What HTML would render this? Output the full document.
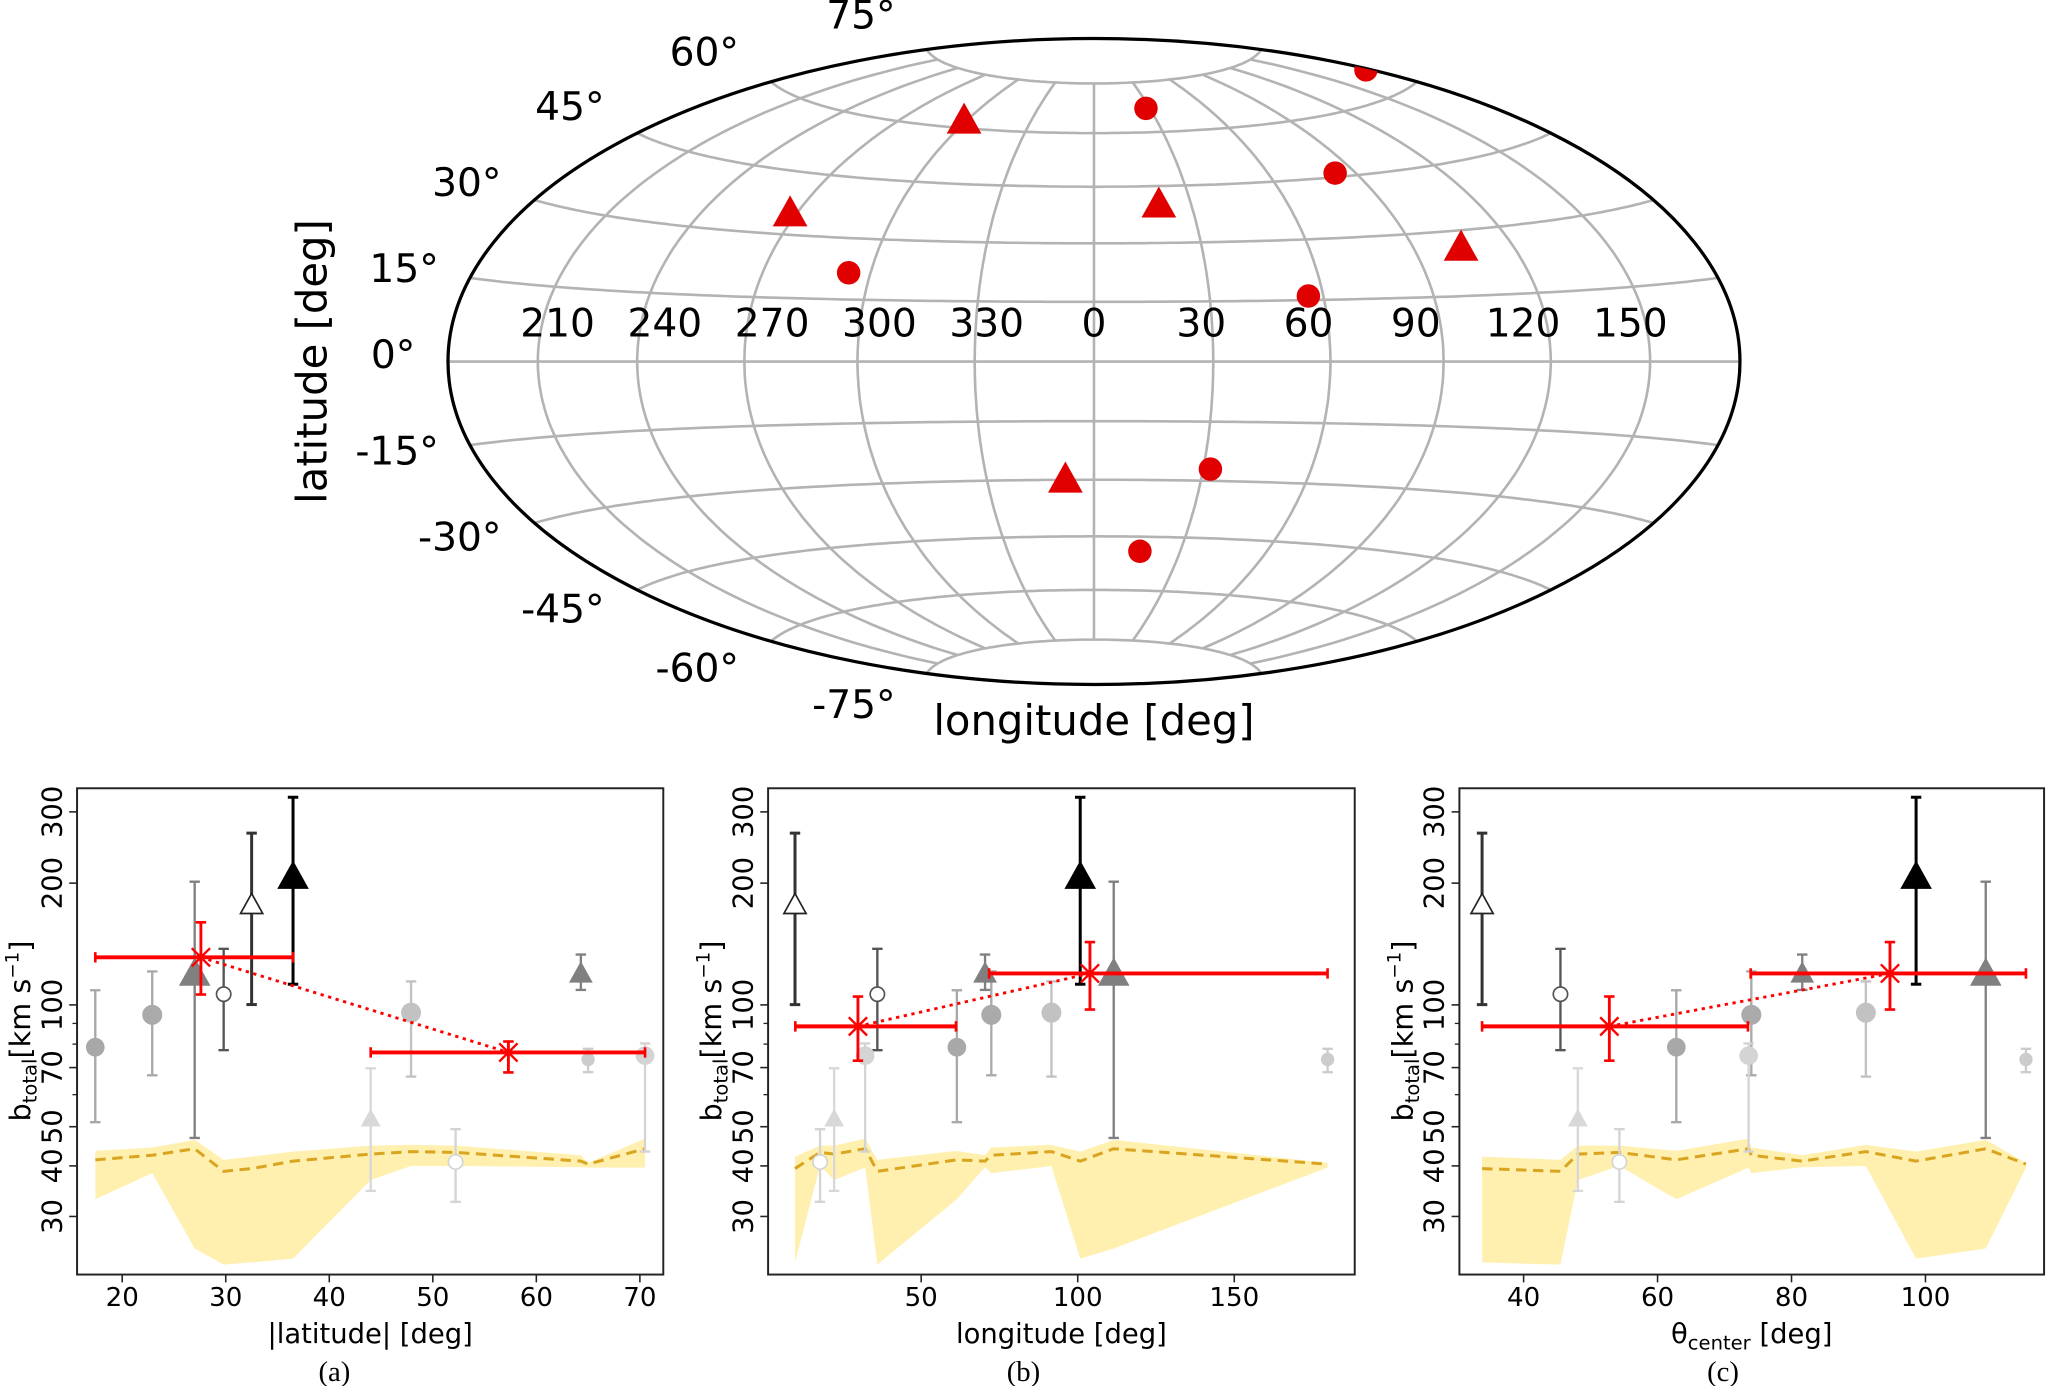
<!DOCTYPE html>
<html><head><meta charset="utf-8"><style>
html,body{margin:0;padding:0;background:#fff;}
svg{display:block;font-family:"DejaVu Sans","Liberation Sans",sans-serif;}
</style></head><body>
<svg id="fig" xmlns="http://www.w3.org/2000/svg" width="2047" height="1386" viewBox="0 0 1568 1062"></svg>
<script>
// ---- map data ----
const circLon=[178,28,83,294,56,32,16];
const circLat=[65,67,46,21.5,16,-27,-49];
const triLon=[299,268,20,104,352];
const triLat=[62,35,40,26,-30];
const lonTicks=[210,240,270,300,330,0,30,60,90,120,150];
const latTicks=[75,60,45,30,15,0,-15,-30,-45,-60,-75];
// ---- panel data (12 sources) ----
const srcLat=[17.4,22.9,27.0,29.8,32.5,36.5,44.0,47.9,52.2,64.3,65.0,70.5];
const srcLon=[61.4,72.4,111.5,36.0,9.7,100.8,22.2,91.6,17.7,70.4,179.8,32.1];
const srcTheta=[62.8,74.0,109.0,45.5,33.8,98.6,48.1,91.1,54.3,81.6,115.0,73.6];
const bVal=[78.6,94.5,119.6,106.3,177,207.6,52.3,95.7,40.9,119.6,73.3,74.9];
const bHi=[108.7,121,201.7,137.6,265.8,326,69.7,114.3,49.3,133.2,77.9,80.3];
const bLo=[51.3,67,46.9,77.3,100.2,112.5,34.7,66.5,32.6,108.9,68.2,43.4];
const medVal=[41.4,42.5,44.1,38.8,39.4,41.1,42.8,43.4,43.2,41.1,40.4,44.1];
const bandUp=[43.6,44.4,46.4,41.4,42.2,43.4,44.9,45.1,44.9,42.5,40.7,46.7];
const bandLo=[33.1,38.4,25.0,22.8,23.1,23.6,36.9,40.0,40.0,39.7,39.6,39.6];
// red binned averages per panel: [x, xlo, xhi, y, ylo, yhi]
const avgA=[[27.6,17.4,36.5,131.1,106.1,160],[57.3,44.0,70.5,76.3,68.1,81.2]];
const avgB=[[29.8,9.8,61.1,88.5,72.8,104.9],[103.9,71.7,179.8,119.6,97.4,143]];
const avgC=[[52.8,33.8,73.5,88.5,72.8,104.9],[94.7,73.9,115.0,119.6,97.4,143]];
const yTicks=[30,40,50,70,100,200,300];
const yMinor=[60,80,90];
const xTicksA=[20,30,40,50,60,70];
const xTicksB=[50,100,150];
const xTicksC=[40,60,80,100];
// marker styles per source (not data)
const sty=[
 {m:'o',r:6.5,f:'#a8a8a8',e:'#a8a8a8'},{m:'o',r:7,f:'#aaaaaa',e:'#aaaaaa'},
 {m:'^',r:11,f:'#808080',e:'#808080'},{m:'o',r:5.5,f:'#fff',e:'#555555',ec:'#555555'},
 {m:'^',r:8.5,f:'#fff',e:'#222',ec:'#333'},{m:'^',r:11,f:'#000',e:'#000'},
 {m:'^',r:6.5,f:'#d8d8d8',e:'#d8d8d8'},{m:'o',r:7,f:'#c2c2c2',e:'#c2c2c2'},
 {m:'o',r:5.5,f:'#fff',e:'#d4d4d4'},{m:'^',r:8,f:'#808080',e:'#808080'},
 {m:'o',r:4.5,f:'#cccccc',e:'#cccccc'},{m:'o',r:6.5,f:'#d4d4d4',e:'#d4d4d4'}];

const NS='http://www.w3.org/2000/svg';
const svg=document.getElementById('fig');
function el(tag,attrs,parent){const e=document.createElementNS(NS,tag);for(const k in attrs)e.setAttribute(k,attrs[k]);(parent||svg).appendChild(e);return e;}

// ---- Hammer map ----
const CX=838,CY=277,S=175;
function ham(lonDeg,latDeg){let l=lonDeg>180?lonDeg-360:lonDeg;const L=l*Math.PI/180,P=latDeg*Math.PI/180;
 const d=Math.sqrt(1+Math.cos(P)*Math.cos(L/2));
 return [CX+S*2*Math.SQRT2*Math.cos(P)*Math.sin(L/2)/d, CY-S*Math.SQRT2*Math.sin(P)/d];}
const map=el('g',{});


el('clipPath',{id:'ell'}).appendChild((()=>{const e=document.createElementNS(NS,'ellipse');e.setAttribute('cx',CX);e.setAttribute('cy',CY);e.setAttribute('rx',S*2*Math.SQRT2);e.setAttribute('ry',S*Math.SQRT2);return e;})());
const grid=el('g',{stroke:'#b3b3b3','stroke-width':2,fill:'none'},map);


for(let lon=-150;lon<=150;lon+=30){let d='';for(let p=-75;p<=75;p+=1){const q=ham(lon,p);d+=(p==-75?'M':'L')+q[0].toFixed(1)+','+q[1].toFixed(1);}
 const g=el('path',{d:d},grid);}
for(let p=-75;p<=75;p+=15){let d='';for(let l=-180;l<=180;l+=2){const q=ham(l,p);d+=(l==-180?'M':'L')+q[0].toFixed(1)+','+q[1].toFixed(1);}
 const g=el('path',{d:d},grid);}
const bd=el('ellipse',{cx:CX,cy:CY,rx:S*2*Math.SQRT2,ry:S*Math.SQRT2,fill:'none',stroke:'#000','stroke-width':2.5},map);

const lonLab=el('g',{'font-size':30,'text-anchor':'middle'},map);
lonTicks.forEach(t=>{const l=t>180?t-360:t;const tx=el('text',{x:CX+2.74*l,y:258},lonLab);tx.textContent=String(t);
 });
const latLabPos={75:[686,22],60:[566,50],45:[463,92],30:[384,150],15:[336,216],0:[318,282],'-15':[336,356],'-30':[384,422],'-45':[463,477],'-60':[566,522],'-75':[686,550]};
latTicks.forEach(t=>{const p=latLabPos[t];const tx=el('text',{x:p[0],y:p[1],'font-size':30,'text-anchor':'end'},map);tx.textContent=t+'°';
 });
const pts=el('g',{fill:'#e00000','clip-path':'url(#ell)'},map);
circLon.forEach((l,i)=>{const q=ham(l,circLat[i]);const c=el('circle',{cx:q[0],cy:q[1],r:9},pts);});
triLon.forEach((l,i)=>{const q=ham(l,triLat[i]);const r=14;const t=el('polygon',{points:`${q[0]},${q[1]-r} ${q[0]+r*0.95},${q[1]+r*0.7} ${q[0]-r*0.95},${q[1]+r*0.7}`},pts);});
let t1=el('text',{x:838,y:563,'font-size':32,'text-anchor':'middle'},map);t1.textContent='longitude [deg]';

let t2=el('text',{x:0,y:0,'font-size':32,'text-anchor':'middle',transform:'translate(250,277) rotate(-90)'},map);t2.textContent='latitude [deg]';


// ---- panels ----
const TOP=604,BOT=976.6;
function yv(v){return 770-310*Math.log10(v/100);}
function panel(name,xs,xf,box,xticks,avg,xtitle,cap,capx){
 const g=el('g',{});
 const clipId='c'+name;const cp=el('clipPath',{id:clipId},g);el('rect',{x:box[0],y:TOP,width:box[1]-box[0],height:BOT-TOP},cp);
 const inner=el('g',{'clip-path':'url(#'+clipId+')'},g);
 const idx=xs.map((v,i)=>i).sort((a,b)=>xs[a]-xs[b]);
 let d='';idx.forEach((i,k)=>{d+=(k?'L':'M')+xf(xs[i]).toFixed(1)+','+yv(bandUp[i]).toFixed(1);});
 idx.slice().reverse().forEach(i=>{d+='L'+xf(xs[i]).toFixed(1)+','+yv(bandLo[i]).toFixed(1);});
 const band=el('path',{d:d+'Z',fill:'#fff0b0'},inner);
 let dm='';idx.forEach((i,k)=>{dm+=(k?'L':'M')+xf(xs[i]).toFixed(1)+','+yv(medVal[i]).toFixed(1);});
 const med=el('path',{d:dm,fill:'none',stroke:'#d9a520','stroke-width':2.3,'stroke-dasharray':'8,5'},inner);
 xs.forEach((xv,i)=>{const s=sty[i];const x=xf(xv);const y=yv(bVal[i]);const ec=s.ec||s.e;
  const sg=el('g',{},inner);
  const w=(ec=='#000'||ec=='#333')?2.3:1.8;
  el('line',{x1:x,x2:x,y1:yv(bHi[i]),y2:yv(bLo[i]),stroke:ec,'stroke-width':w},sg);
  el('line',{x1:x-4,x2:x+4,y1:yv(bHi[i]),y2:yv(bHi[i]),stroke:ec,'stroke-width':w},sg);
  el('line',{x1:x-4,x2:x+4,y1:yv(bLo[i]),y2:yv(bLo[i]),stroke:ec,'stroke-width':w},sg);
  if(s.m=='o')el('circle',{cx:x,cy:y,r:s.r,fill:s.f,stroke:s.e,'stroke-width':1.3},sg);
  else{const r=s.r;el('polygon',{points:`${x},${y-r} ${x+r},${y+r*0.8} ${x-r},${y+r*0.8}`,fill:s.f,stroke:s.e,'stroke-width':1.3},sg);}
 });
 const rg=el('g',{stroke:'#ff0000',fill:'none'},inner);
 el('line',{x1:xf(avg[0][0]),y1:yv(avg[0][3]),x2:xf(avg[1][0]),y2:yv(avg[1][3]),'stroke-width':2.2,'stroke-dasharray':'2.5,3.5'},rg);
 avg.forEach(a=>{const x=xf(a[0]),y=yv(a[3]);
  el('line',{x1:xf(a[1]),x2:xf(a[2]),y1:y,y2:y,'stroke-width':3},rg);
  [a[1],a[2]].forEach(v=>el('line',{x1:xf(v),x2:xf(v),y1:y-4,y2:y+4,'stroke-width':2},rg));
  el('line',{x1:x,x2:x,y1:yv(a[5]),y2:yv(a[4]),'stroke-width':2.2},rg);
  [a[4],a[5]].forEach(v=>el('line',{x1:x-4,x2:x+4,y1:yv(v),y2:yv(v),'stroke-width':2},rg));
  el('path',{d:`M${x-8},${y}H${x+8}M${x-7},${y-7}L${x+7},${y+7}M${x-7},${y+7}L${x+7},${y-7}M${x},${y-8}V${y+8}`,'stroke-width':1.8},rg);
 });
 const fr=el('rect',{x:box[0],y:TOP,width:box[1]-box[0],height:BOT-TOP,fill:'none',stroke:'#222','stroke-width':1.5},g);
 
 yTicks.forEach(v=>{const y=yv(v);el('line',{x1:box[0]-6,x2:box[0],y1:y,y2:y,stroke:'#222','stroke-width':1.2},g);
  const t=el('text',{x:0,y:0,'font-size':21,'text-anchor':'middle',transform:`translate(${box[0]-12},${y}) rotate(-90)`},g);t.textContent=String(v);
  });
 yMinor.forEach(v=>{const y=yv(v);el('line',{x1:box[0]-3.5,x2:box[0],y1:y,y2:y,stroke:'#222','stroke-width':1},g);});
 xticks.forEach(v=>{const x=xf(v);el('line',{x1:x,x2:x,y1:BOT,y2:BOT+6,stroke:'#222','stroke-width':1.2},g);
  const t=el('text',{x:x,y:BOT+24,'font-size':20,'text-anchor':'middle'},g);t.textContent=String(v);
  });
 const yl=el('text',{x:0,y:0,'font-size':22,'text-anchor':'middle',transform:`translate(${box[0]-36},790) rotate(-90)`},g);
 yl.innerHTML='b<tspan font-size="15" dy="5">total</tspan><tspan dy="-5">[km s</tspan><tspan font-size="14" dy="-9">−1</tspan><tspan dy="9">]</tspan>';
 
 const xl=el('text',{x:(box[0]+box[1])/2,y:1029,'font-size':21,'text-anchor':'middle'},g);xl.innerHTML=xtitle;
 
 const cl=el('text',{x:capx,y:1058,'font-size':22,'text-anchor':'middle','font-family':'Liberation Serif, serif'},g);cl.textContent=cap;
 
}
panel('panel-a-latitude',srcLat,v=>93.4+7.933*(v-20),[58.8,508],xTicksA,avgA,'|latitude| [deg]','(a)',256);
panel('panel-b-longitude',srcLon,v=>705.6+2.399*(v-50),[588.3,1037.8],xTicksB,avgB,'longitude [deg]','(b)',784);
panel('panel-c-theta',srcTheta,v=>1167.2+5.132*(v-40),[1118,1566],xTicksC,avgC,'θ<tspan font-size="15" dy="5">center</tspan><tspan dy="-5"> [deg]</tspan>','(c)',1320);
</script>
</body></html>
